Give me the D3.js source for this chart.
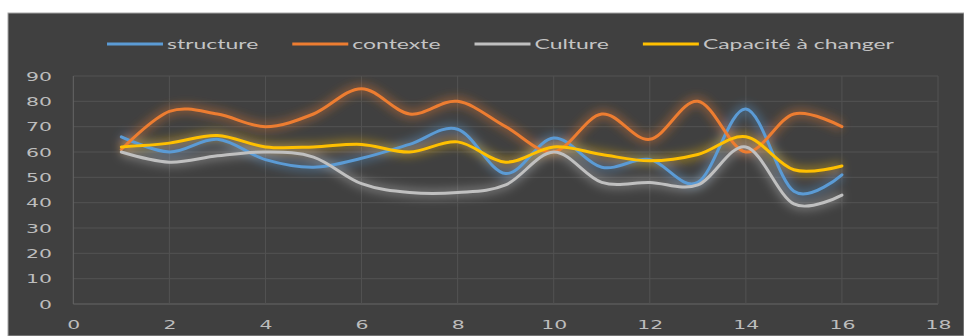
<!DOCTYPE html>
<html>
<head>
<meta charset="utf-8">
<script src="https://cdn.jsdelivr.net/npm/d3@7"></script>
<style>
  html, body { margin: 0; padding: 0; background: #ffffff; }
  svg { display: block; }
</style>
</head>
<body>
<svg id="chart" width="964" height="336"></svg>
<script>
// ---- data ----
const xValues = [1, 2, 3, 4, 5, 6, 7, 8, 9, 10, 11, 12, 13, 14, 15, 16];
const structure = [66, 60, 65, 57, 54, 57.5, 63, 69, 51.5, 65.5, 54, 57, 48, 77, 44.5, 51];
const contexte = [61, 76, 75, 70, 75, 85, 75, 80, 70, 60, 75, 65, 80, 60, 75, 70];
const culture = [60, 56, 58.5, 60, 58, 47.5, 44, 44, 47, 60, 48, 48, 47, 62, 39.5, 43];
const capacite = [62, 63.5, 66.5, 62, 62, 63, 60, 64, 56, 62, 59, 56.5, 59, 66, 53, 54.5];
const seriesNames = ["structure", "contexte", "Culture", "Capacité à changer"];
const xTicks = [0, 2, 4, 6, 8, 10, 12, 14, 16, 18];
const yTicks = [0, 10, 20, 30, 40, 50, 60, 70, 80, 90];

const seriesColors = ["#5b9bd5", "#ed7d31", "#c0c0c0", "#ffc000"];
const seriesData = [structure, contexte, culture, capacite];

// ---- layout ----
const svg = d3.select("#chart");
const W = 964, H = 336;
const plot = { left: 73.3, right: 938, top: 76, bottom: 304 };
const textScaleX = 1.64;
const tickScaleX = 1.7;

svg.append("rect").attr("width", W).attr("height", H).attr("fill", "#ffffff");
svg.append("rect").attr("x", 8).attr("y", 13).attr("width", W - 8).attr("height", H - 13)
  .attr("fill", "#404040").attr("stroke", "#a6a6a6").attr("stroke-width", 1);

const defs = svg.append("defs");
const f = defs.append("filter").attr("id", "glow")
  .attr("x", "-10%").attr("y", "-50%").attr("width", "120%").attr("height", "200%");
f.append("feGaussianBlur").attr("stdDeviation", 5);

const x = d3.scaleLinear().domain([0, 18]).range([plot.left, plot.right]);
const y = d3.scaleLinear().domain([0, 90]).range([plot.bottom, plot.top]);

// gridlines
const grid = svg.append("g");
grid.selectAll("line.h").data(yTicks).join("line")
  .attr("x1", plot.left).attr("x2", plot.right)
  .attr("y1", d => y(d)).attr("y2", d => y(d))
  .attr("stroke", d => d === 0 ? "#666666" : "#525252").attr("stroke-width", 1);
grid.selectAll("line.v").data(xTicks).join("line")
  .attr("y1", plot.top).attr("y2", plot.bottom)
  .attr("x1", d => x(d)).attr("x2", d => x(d))
  .attr("stroke", d => d === 0 ? "#666666" : "#525252").attr("stroke-width", 1);

// axis labels via d3 axes
const yAxis = svg.append("g").attr("transform", `translate(${plot.left},0)`)
  .call(d3.axisLeft(y).tickValues(yTicks).tickSize(0).tickFormat(d3.format("d")));
yAxis.select(".domain").remove();
yAxis.selectAll("text")
  .attr("x", 0).attr("dy", "0.35em")
  .attr("fill", "#bdbdbd").attr("font-family", "DejaVu Sans").attr("font-size", 12)
  .attr("text-anchor", "end")
  .attr("transform", `translate(${52 - plot.left},0) scale(${tickScaleX},1)`);

const xAxis = svg.append("g").attr("transform", `translate(0,${plot.bottom})`)
  .call(d3.axisBottom(x).tickValues(xTicks).tickSize(0).tickFormat(d3.format("d")));
xAxis.select(".domain").remove();
xAxis.selectAll(".tick text")
  .attr("y", 0).attr("dy", "0.35em")
  .attr("fill", "#bdbdbd").attr("font-family", "DejaVu Sans").attr("font-size", 12)
  .attr("transform", `translate(0,21) scale(${tickScaleX},1)`);

// lines
const line = d3.line().x((d, i) => x(xValues[i])).y(d => y(d)).curve(d3.curveCardinal.tension(0));
const glowG = svg.append("g").attr("filter", "url(#glow)");
seriesData.forEach((s, k) => {
  glowG.append("path").attr("d", line(s)).attr("fill", "none")
    .attr("stroke", seriesColors[k]).attr("stroke-width", 9).attr("stroke-opacity", 0.4);
});
seriesData.forEach((s, k) => {
  svg.append("path").attr("d", line(s)).attr("fill", "none")
    .attr("stroke", seriesColors[k]).attr("stroke-width", 3).attr("stroke-linecap", "round");
});

// legend
const legend = svg.append("g");
let lx = 107;
const ly = 44;
seriesNames.forEach((name, k) => {
  legend.append("line").attr("x1", lx).attr("x2", lx + 56).attr("y1", ly).attr("y2", ly)
    .attr("stroke", seriesColors[k]).attr("stroke-width", 3);
  const t = legend.append("text").text(name)
    .attr("fill", "#c4c4c4").attr("font-family", "Lato").attr("font-size", 14)
    .attr("dy", "0.35em")
    .attr("transform", `translate(${lx + 60},${ly}) scale(${textScaleX},1)`);
  const w = t.node().getComputedTextLength() * textScaleX;
  lx = lx + 60 + w + 34;
});
</script>
</body>
</html>
